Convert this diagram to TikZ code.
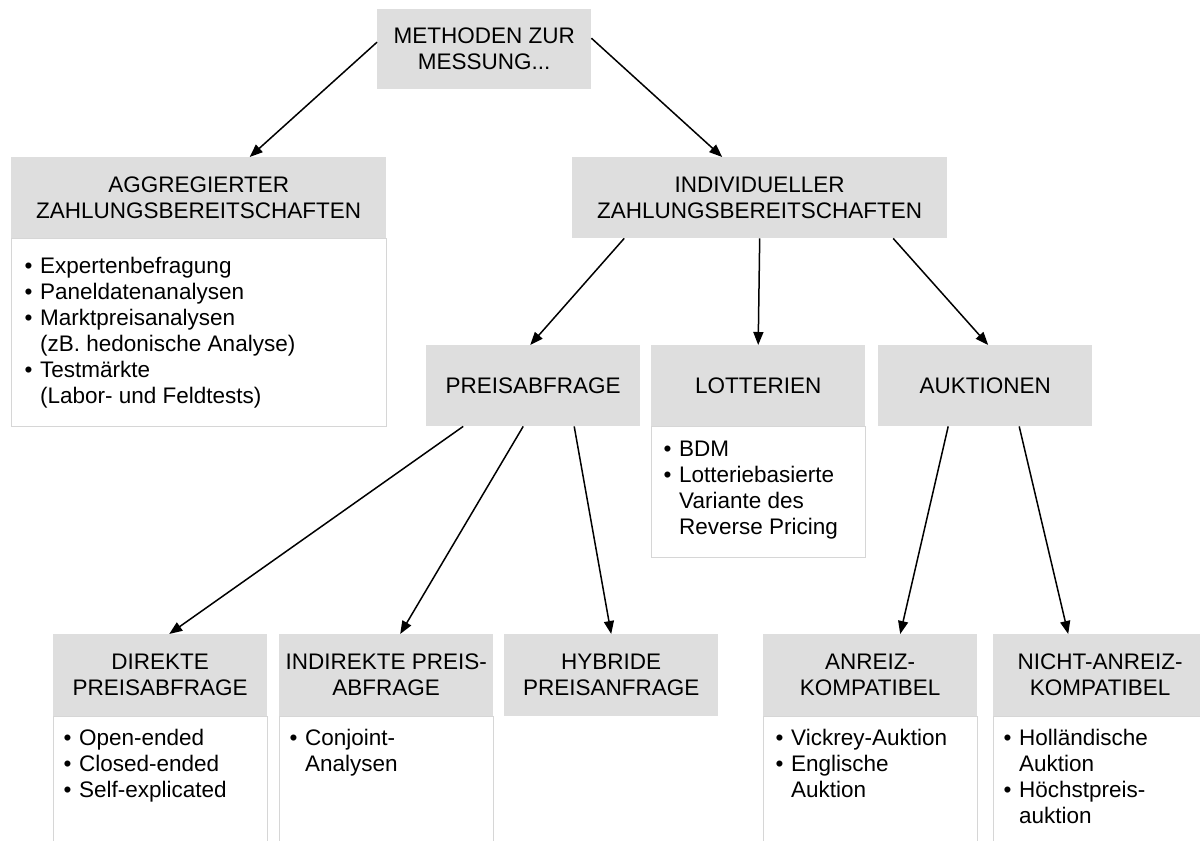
\documentclass[tikz,border=0pt]{standalone}
\usepackage{fontspec}
\setmainfont{Liberation Sans}
\usetikzlibrary{arrows.meta,calc}
\definecolor{headgray}{HTML}{DEDEDE}
\definecolor{framegray}{HTML}{D6D6D6}

\begin{document}
\begin{tikzpicture}[x=1pt,y=-1pt,
  every node/.style={font=\fontsize{22.5pt}{26pt}\selectfont, text=black},
  head/.style={fill=headgray, inner sep=0pt, anchor=north west, align=center,
    minimum width=214pt, minimum height=81pt},
  body/.style={draw=framegray, line width=1.3pt, fill=white, anchor=north west,
    inner sep=0pt, minimum width=214pt},
  items/.style={anchor=base west, inner sep=0pt},
  arrow/.style={-{Triangle[length=13pt,width=10pt]}, line width=1.5pt, black}]
\useasboundingbox (0,0) rectangle (1200,841);
\clip (0,0) rectangle (1200,841);

% root
\node[head, minimum height=80pt] (top) at (377,9) {METHODEN ZUR\\MESSUNG...};

% first level
\node[body, minimum width=375pt, minimum height=188pt] (agb) at (11,238) {};
\node[head, minimum width=375pt] (ag) at (11,157) {AGGREGIERTER\\ZAHLUNGSBEREITSCHAFTEN};
\node[head, minimum width=375pt] (ind) at (572,157) {INDIVIDUELLER\\ZAHLUNGSBEREITSCHAFTEN};

% second level
\node[head] (pa) at (426,345) {PREISABFRAGE};
\node[body, minimum height=131pt] (lotb) at (651,426) {};
\node[head] (lot) at (651,345) {LOTTERIEN};
\node[head] (auk) at (878,345) {AUKTIONEN};

% third level
\node[body, minimum height=140pt] (dirb) at (53,716) {};
\node[head, minimum height=82pt] (dir) at (53,634) {DIREKTE\\PREISABFRAGE};
\node[body, minimum height=140pt] (indirb) at (279,716) {};
\node[head, minimum height=82pt] (indir) at (279,634) {INDIREKTE PREIS-\\ABFRAGE};
\node[head, minimum height=82pt] (hyb) at (504,634) {HYBRIDE\\PREISANFRAGE};
\node[body, minimum height=140pt] (anrb) at (763,716) {};
\node[head, minimum height=82pt] (anr) at (763,634) {ANREIZ-\\KOMPATIBEL};
\node[body, minimum height=140pt] (nab) at (993,716) {};
\node[head, minimum height=82pt] (na) at (993,634) {NICHT-ANREIZ-\\KOMPATIBEL};

% bullet lists
\node[items] (agl) at (24.5,273) {\begin{tabular}[t]{@{}l@{\hspace{7.6pt}}l@{}}
  \textbullet & Expertenbefragung\\
  \textbullet & Paneldatenanalysen\\
  \textbullet & Marktpreisanalysen\\
              & (zB. hedonische Analyse)\\
  \textbullet & Testmärkte\\
              & (Labor- und Feldtests)\end{tabular}};
\node[items] (lotl) at (663.5,456) {\begin{tabular}[t]{@{}l@{\hspace{7.6pt}}l@{}}
  \textbullet & BDM\\
  \textbullet & Lotteriebasierte\\
              & Variante des\\
              & Reverse Pricing\end{tabular}};
\node[items] (dirl) at (63.5,745) {\begin{tabular}[t]{@{}l@{\hspace{7.6pt}}l@{}}
  \textbullet & Open-ended\\
  \textbullet & Closed-ended\\
  \textbullet & Self-explicated\end{tabular}};
\node[items] (indirl) at (289.5,745) {\begin{tabular}[t]{@{}l@{\hspace{7.6pt}}l@{}}
  \textbullet & Conjoint-\\
              & Analysen\end{tabular}};
\node[items] (anrl) at (775.5,745) {\begin{tabular}[t]{@{}l@{\hspace{7.6pt}}l@{}}
  \textbullet & Vickrey-Auktion\\
  \textbullet & Englische\\
              & Auktion\end{tabular}};
\node[items] (nal) at (1003.5,745) {\begin{tabular}[t]{@{}l@{\hspace{7.6pt}}l@{}}
  \textbullet & Holländische\\
              & Auktion\\
  \textbullet & Höchstpreis-\\
              & auktion\end{tabular}};

% connectors
\draw[arrow] ($(top.west)+(0,-7)$) -- ($(ag.north)+(51,0)$);
\draw[arrow] ($(top.east)+(0,-11)$) -- ($(ind.north)+(-37.5,0)$);
\draw[arrow] ($(ind.south)+(-135.5,0)$) -- ($(pa.north)+(-3,0)$);
\draw[arrow] (ind.south) -- (lot.north);
\draw[arrow] ($(ind.south)+(133.5,0)$) -- ($(auk.north)+(3,0)$);
\draw[arrow] ($(pa.south)+(-70,0)$) -- ($(dir.north)+(9,0)$);
\draw[arrow] ($(pa.south)+(-10,0)$) -- ($(indir.north)+(14,0)$);
\draw[arrow] ($(pa.south)+(41,0)$) -- (hyb.north);
\draw[arrow] ($(auk.south)+(-37,0)$) -- ($(anr.north)+(30,0)$);
\draw[arrow] ($(auk.south)+(34,0)$) -- ($(na.north)+(-32,0)$);
\end{tikzpicture}
\end{document}
